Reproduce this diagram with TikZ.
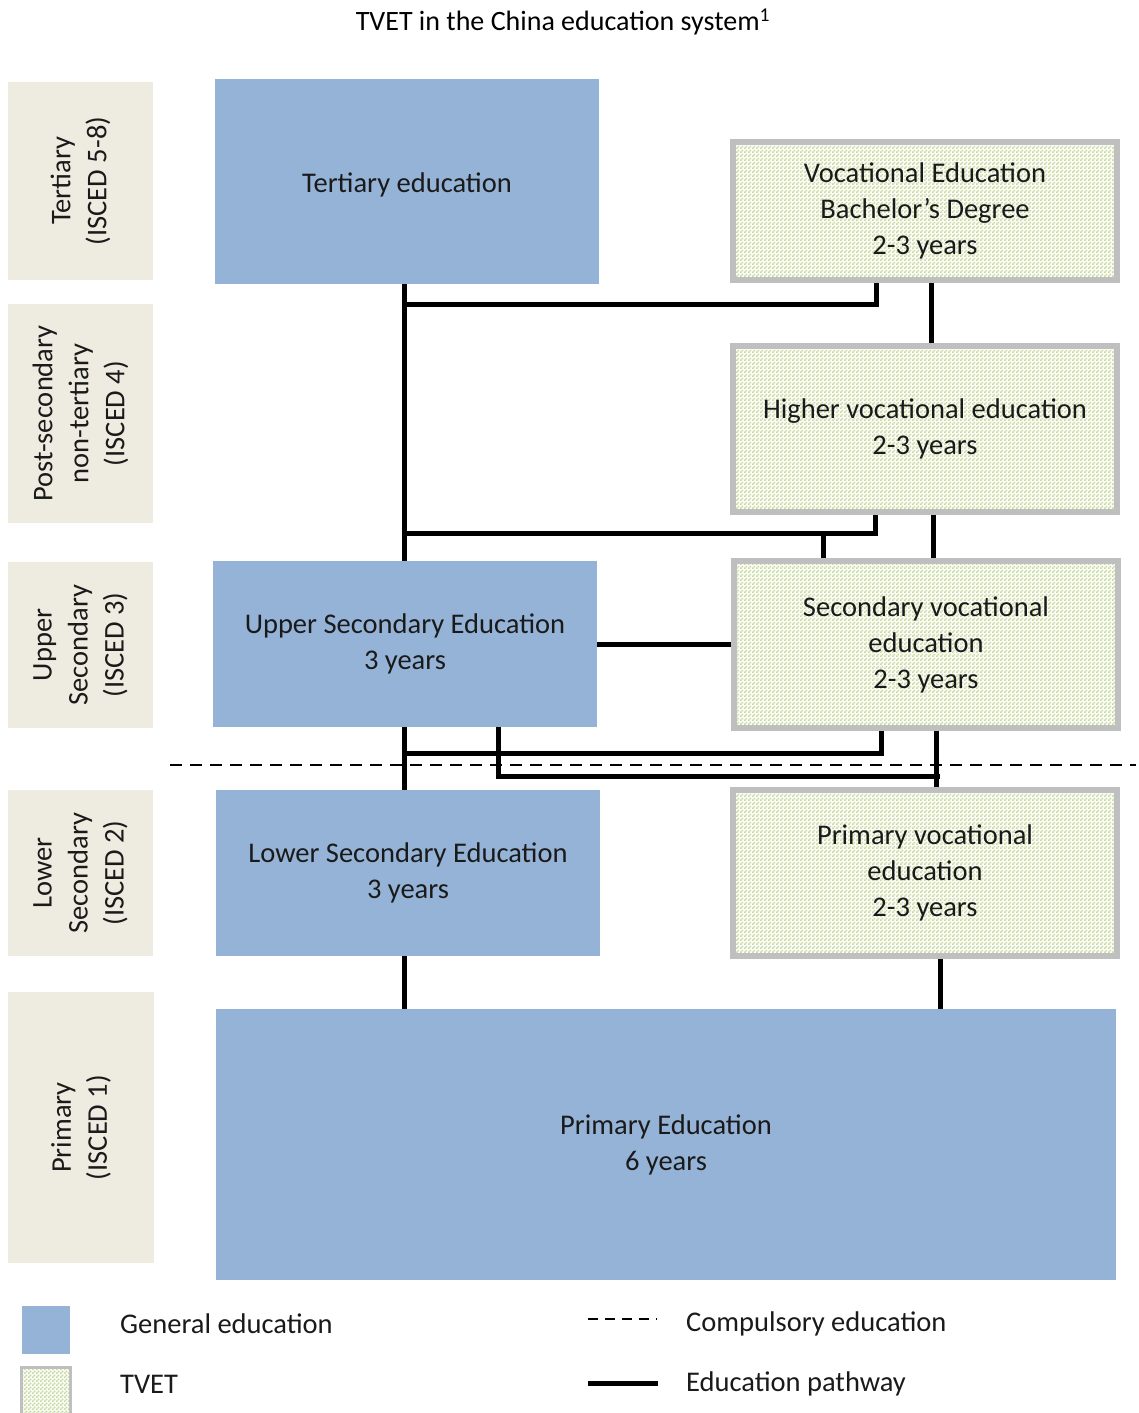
\documentclass[tikz,border=0pt]{standalone}
\usepackage{fontspec}
\setmainfont{Carlito}
\usetikzlibrary{patterns,backgrounds}
\pgfdeclarepatternformonly{finecheck}{\pgfpointorigin}{\pgfqpoint{4pt}{4pt}}{\pgfqpoint{4pt}{4pt}}{%
  \pgfpathrectangle{\pgfpointorigin}{\pgfqpoint{2pt}{2pt}}%
  \pgfpathrectangle{\pgfqpoint{2pt}{2pt}}{\pgfqpoint{2pt}{2pt}}%
  \pgfusepath{fill}}
\definecolor{genblue}{HTML}{95B3D7}
\definecolor{sidebg}{HTML}{EEECE1}
\definecolor{tvetborder}{HTML}{BFBFBF}
\definecolor{tvetdot}{HTML}{C6D9A0}
\definecolor{tvetbg}{HTML}{FBFCF7}
\definecolor{txt}{HTML}{1A1A1A}
\tikzset{
  boxtext/.style={font=\fontsize{28.5}{36}\selectfont, text=txt, align=center, inner sep=0pt},
  lower/.style={execute at begin node={\rule{0pt}{27pt}}},
  genbox/.style={boxtext, lower, fill=genblue, draw=none},
  tvetbox/.style={boxtext, lower, draw=tvetborder, line width=6pt, pattern=finecheck, pattern color=tvetdot, preaction={fill=tvetbg}},
  sidebox/.style={boxtext, fill=sidebg, draw=none, rotate=90},
  pathway/.style={draw=black, line width=5pt},
  compulsory/.style={draw=black, line width=2.5pt, dash pattern=on 12pt off 8pt},
  legtext/.style={font=\fontsize{28.5}{36}\selectfont, text=txt, anchor=west, inner sep=0pt},
}
\begin{document}
\begin{tikzpicture}[x=1pt,y=-1pt]
\useasboundingbox (0,0) rectangle (1138,1413);

% title
\node[font=\fontsize{28}{34}\selectfont, text=black, inner sep=0pt] (title) at (563,22) {TVET in the China education system\textsuperscript{1}};

% side labels
\node[sidebox, minimum width=198, minimum height=145] (sideT) at (80.5,181) {Tertiary\\(ISCED 5-8)};
\node[sidebox, minimum width=219, minimum height=145] (sideP) at (80.5,413.5) {Post-secondary\\non-tertiary\\(ISCED 4)};
\node[sidebox, minimum width=166, minimum height=145] (sideU) at (80.5,645) {Upper\\Secondary\\(ISCED 3)};
\node[sidebox, minimum width=166, minimum height=145] (sideL) at (80.5,873) {Lower\\Secondary\\(ISCED 2)};
\node[sidebox, minimum width=271, minimum height=146] (sideR) at (81,1127.5) {Primary\\(ISCED 1)};

% general education boxes
\node[genbox, minimum width=384, minimum height=205] (tert) at (407,181.5) {Tertiary education};
\node[genbox, minimum width=384, minimum height=166] (usec) at (405,644) {Upper Secondary Education\\3 years};
\node[genbox, minimum width=384, minimum height=166] (lsec) at (408,873) {Lower Secondary Education\\3 years};
\node[genbox, minimum width=900, minimum height=271] (prim) at (666,1144.5) {Primary Education\\6 years};

% TVET boxes
\node[tvetbox, minimum width=384, minimum height=138] (vbach) at (925,211) {Vocational Education\\Bachelor’s Degree\\2-3 years};
\node[tvetbox, minimum width=384, minimum height=166] (hvoc) at (925,429) {Higher vocational education\\2-3 years};
\node[tvetbox, minimum width=384, minimum height=167] (svoc) at (926,644.5) {Secondary vocational\\education\\2-3 years};
\node[tvetbox, minimum width=384, minimum height=166] (pvoc) at (925,873) {Primary vocational\\education\\2-3 years};

% junction coordinates on the trunk
\coordinate (j1) at (404,304);
\coordinate (j2) at (404,533);
\coordinate (j3) at (404,753);
\coordinate (j4) at (940,776);

\begin{scope}[on background layer]
% trunk
\draw[pathway] ([xshift=-3pt]tert.south) -- ([xshift=-1pt]usec.north);
\draw[pathway] ([xshift=-1pt]usec.south) -- ([xshift=-4pt]lsec.north);
\draw[pathway] ([xshift=-4pt]lsec.south) -- ([xshift=-4pt]lsec.south |- prim.north);
% bachelor links
\draw[pathway] ([xshift=146pt]vbach.south west) |- (j1);
\draw[pathway] ([xshift=201pt]vbach.south west) -- ([xshift=201pt]hvoc.north west);
% higher vocational links
\draw[pathway] ([xshift=145pt]hvoc.south west) |- (j2);
\draw[pathway] ([xshift=92pt]svoc.north west) -- ([xshift=92pt]svoc.north west |- j2);
\draw[pathway] ([xshift=203pt]hvoc.south west) -- ([xshift=202pt]svoc.north west);
% upper secondary links
\draw[pathway] (usec.east) -- (usec.east -| svoc.west);
\draw[pathway] ([xshift=150pt]svoc.south west) |- (j3);
\draw[pathway] ([xshift=286pt]usec.south west) |- (j4);
\draw[pathway] ([xshift=205pt]svoc.south west) -- ([xshift=206pt]pvoc.north west);
% primary vocational to primary
\draw[pathway] ([xshift=210pt]pvoc.south west) -- ([xshift=210pt]pvoc.south west |- prim.north);
\end{scope}

% compulsory education line
\coordinate (cl) at (170,765);
\coordinate (cr) at (1136,765);
\draw[compulsory] (cl) -- (cr);

% legend
\node[fill=genblue, minimum width=48, minimum height=48, inner sep=0pt] (legG) at (46,1330) {};
\node[draw=tvetborder, line width=3pt, pattern=finecheck, pattern color=tvetdot, preaction={fill=tvetbg}, minimum width=49, minimum height=48, inner sep=0pt] (legT) at (46,1391) {};
\node[legtext] (legGt) at (120,1324) {General education};
\node[legtext] (legTt) at (120,1384) {TVET};
\coordinate (ld1) at (588,1319);
\coordinate (ld2) at (657,1319);
\draw[black, line width=2.5pt, dash pattern=on 10pt off 7pt] (ld1) -- (ld2);
\coordinate (lp1) at (588,1383);
\coordinate (lp2) at (658,1383);
\draw[pathway] (lp1) -- (lp2);
\node[legtext] (legCt) at (686,1324) {Compulsory education};
\node[legtext] (legPt) at (686,1384) {Education pathway};
\end{tikzpicture}
\end{document}
